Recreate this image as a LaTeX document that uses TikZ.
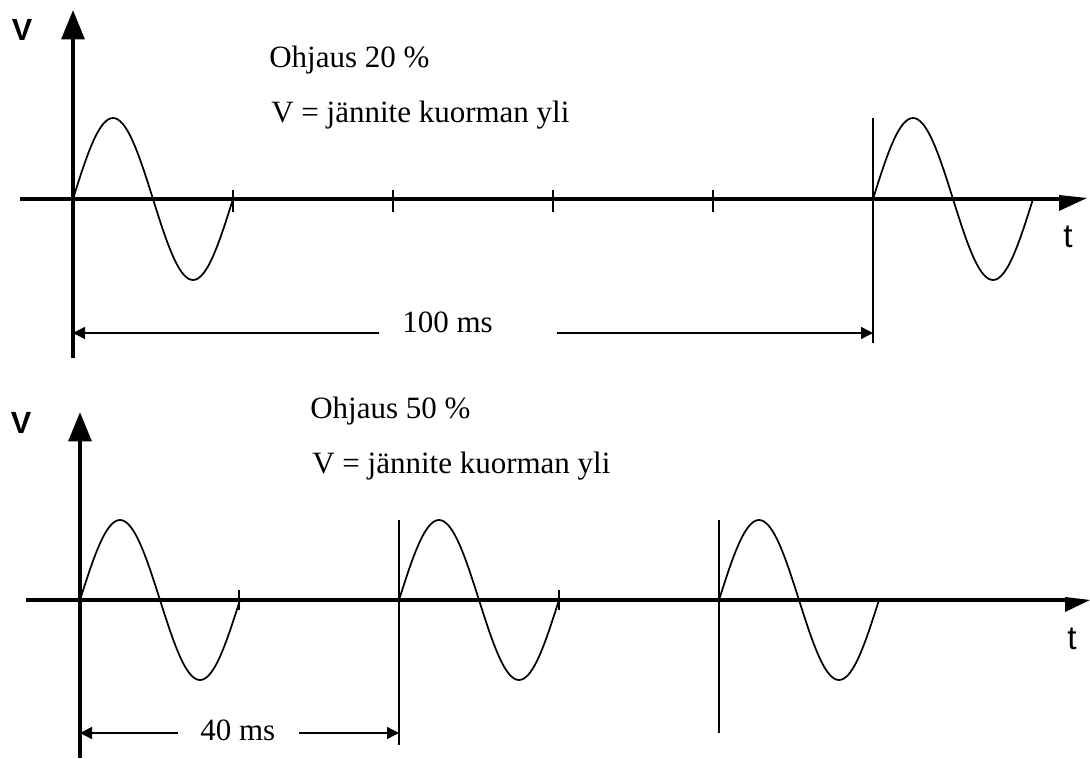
\documentclass[tikz,border=0pt]{standalone}
\usepackage{fontspec}
\setmainfont{Liberation Serif}
\newfontfamily\axisfont{Liberation Sans}
\usepackage{tikz}
\usetikzlibrary{arrows.meta,positioning}

\begin{document}
\begin{tikzpicture}[x=0.75pt,y=-0.75pt,
    axis/.style={line width=3pt},
    tickline/.style={line width=1.3pt},
    wave/.style={line width=1.3pt},
    gate/.style={line width=1.3pt},
    dimarrow/.style={line width=1.1pt,-{Triangle[width=9pt,length=9pt]}},
    lbl/.style={font=\fontsize{23.25}{28}\selectfont,inner sep=0pt,anchor=base west},
    axlbl/.style={font=\axisfont\bfseries\fontsize{23}{25}\selectfont,inner sep=0pt},
    tlbl/.style={font=\axisfont\fontsize{25}{27}\selectfont,inner sep=0pt}]
  \useasboundingbox (0,0) rectangle (1090,758);

  % upper trace: 20 % duty
  \draw[axis,-{Triangle[width=17pt,length=22pt]}] (73,358) -- (73,10);
  \draw[axis] (20,199) -- (1062,199);
  \fill (1059,195) -- (1087,198) -- (1059,211) -- cycle;
  \foreach \tx in {233,393,553,713}
    \draw[tickline] (\tx,190) -- (\tx,212);
  \foreach \sx in {73,873}
    \draw[wave] plot[domain=0:360,samples=73,smooth] ({\sx+\x*0.44444},{199-81*sin(\x)});
  \draw[gate] (873,118) -- (873,343);
  \node[axlbl] (v1) at (22,30) {V};
  \node[tlbl] (t1) at (1068,237) {t};
  \node[lbl] (ohj1) at (269,67) {Ohjaus 20 \%};
  \node[lbl] (jan1) at (271,122) {V = jännite kuorman yli};
  \coordinate (d1a) at (73,333);
  \coordinate (d1b) at (873,333);
  \node[lbl] (ms100) at (402,332) {100 ms};
  \draw[dimarrow] (379,333) -- (d1a);
  \draw[dimarrow] (557,333) -- (d1b);

  % lower trace: 50 % duty
  \draw[axis,-{Triangle[width=17pt,length=22pt]}] (80,758) -- (80,412);
  \draw[axis] (26,600) -- (1068,600);
  \fill (1065,597) -- (1090,600) -- (1065,612) -- cycle;
  \foreach \tx in {239,559}
    \draw[tickline] (\tx,590) -- (\tx,610);
  \foreach \sx in {80,399,719}
    \draw[wave] plot[domain=0:360,samples=73,smooth] ({\sx+\x*0.44444},{600-80*sin(\x)});
  \draw[gate] (399,520) -- (399,745);
  \draw[gate] (719,520) -- (719,733);
  \node[axlbl] (v2) at (21,423) {V};
  \node[tlbl] (t2) at (1072,639) {t};
  \node[lbl] (ohj2) at (310,418) {Ohjaus 50 \%};
  \node[lbl] (jan2) at (312,473) {V = jännite kuorman yli};
  \coordinate (d2a) at (80,733);
  \coordinate (d2b) at (399,733);
  \node[lbl] (ms40) at (200,740) {40 ms};
  \draw[dimarrow] (178,733) -- (d2a);
  \draw[dimarrow] (299,733) -- (d2b);
\end{tikzpicture}
\end{document}
